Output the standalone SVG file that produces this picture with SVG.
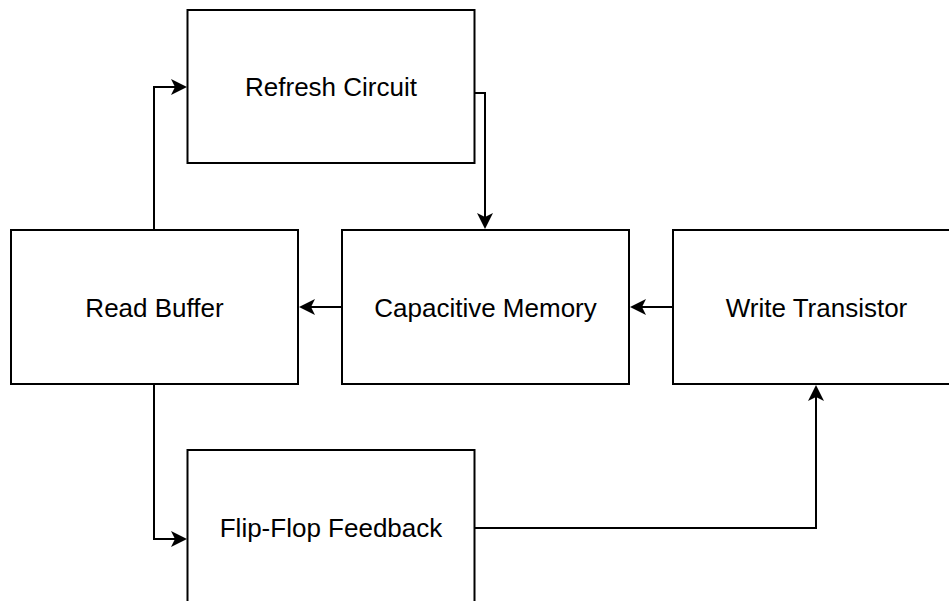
<svg xmlns="http://www.w3.org/2000/svg" width="949" height="601" viewBox="0 0 949 601">
  <style>
    .box { fill: #ffffff; stroke: #000000; stroke-width: 2; }
    .label { font-family: "Liberation Sans", Arial, Helvetica, sans-serif; font-size: 26px; fill: #000000; text-anchor: middle; }
    .wire { fill: none; stroke: #000000; stroke-width: 2; marker-end: url(#arrow); }
  </style>
  <defs>
    <!-- classic notched arrowhead; tip sits 2px past the end of the wire -->
    <marker id="arrow" viewBox="0 0 16 16" refX="14" refY="8" markerWidth="16" markerHeight="16" markerUnits="userSpaceOnUse" orient="auto">
      <path d="M0,0 L16,8 L0,16 L4,8 Z" fill="#000000"/>
    </marker>
  </defs>
  <rect width="949" height="601" fill="#ffffff"/>

  <g id="refresh-circuit">
    <rect class="box" x="187.5" y="10" width="287" height="153"/>
    <text class="label" x="331" y="96">Refresh Circuit</text>
  </g>
  <g id="read-buffer">
    <rect class="box" x="11" y="230" width="287" height="154"/>
    <text class="label" x="154.5" y="316.5">Read Buffer</text>
  </g>
  <g id="capacitive-memory">
    <rect class="box" x="342" y="230" width="287" height="154"/>
    <text class="label" x="485.5" y="316.5">Capacitive Memory</text>
  </g>
  <g id="write-transistor">
    <rect class="box" x="673" y="230" width="287" height="154"/>
    <text class="label" x="816.5" y="316.5">Write Transistor</text>
  </g>
  <g id="flip-flop-feedback">
    <rect class="box" x="187.5" y="450" width="287" height="154"/>
    <text class="label" x="331" y="537">Flip-Flop Feedback</text>
  </g>

  <g id="connectors">
    <path class="wire" d="M154,230 V87 H185"/>
    <path class="wire" d="M474.5,93 H485 V227"/>
    <path class="wire" d="M342,307 H301"/>
    <path class="wire" d="M673,307 H632"/>
    <path class="wire" d="M154,384 V539 H185"/>
    <path class="wire" d="M474.5,528 H816 V387"/>
  </g>
</svg>
